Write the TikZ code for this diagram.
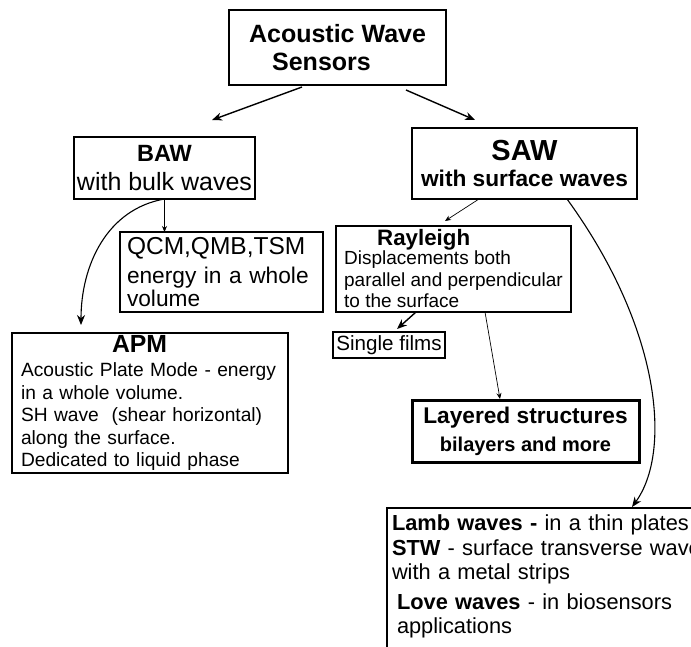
\documentclass[tikz,border=0pt]{standalone}
\usepackage{fontspec}
\setmainfont{Liberation Sans}
\usetikzlibrary{positioning}
\usetikzlibrary{arrows.meta}
\newcommand{\boxfont}[2]{\fontsize{#1}{#2}\selectfont}

\begin{document}
\begin{tikzpicture}[x=1pt,y=1pt,
                    sensorbox/.style={rectangle,
                                      draw=black,
                                      line width=1.8pt,
                                      inner sep=0pt, outer sep=0pt
                                     },
                    wavearrow/.style={
                                      line width=1.4pt,
                                      ->,
                                      >={Stealth[length=10pt,width=8pt]}
                                     },
                    thinarrow/.style={
                                      line width=0.7pt,
                                      ->,
                                      >={Stealth[length=6pt,width=5pt]}
                                     }
                   ]
  \useasboundingbox (0,0) rectangle (691,-646);
  \clip (0,0) rectangle (691,-646);

  \node[sensorbox, minimum width=217pt, minimum height=75pt, align=center,
        font=\boxfont{25}{28}\bfseries] (AWS) at (337.5,-47.5) {Acoustic Wave\\Sensors\hspace*{32pt}};
  \node[sensorbox, below=52pt of AWS, xshift=-173pt, minimum width=181pt, minimum height=62pt,
        align=center, font=\boxfont{25}{29}] (BAW) {{\boxfont{23.5}{29}\bfseries BAW}\\with bulk waves};
  \node[sensorbox, below=43pt of AWS, xshift=187pt, minimum width=225pt, minimum height=71pt,
        align=center, font=\boxfont{22.7}{26}\bfseries] (SAW) {{\boxfont{29}{26}SAW}\\with surface waves};
  \node[sensorbox, below=33pt of BAW, xshift=57pt, minimum height=80pt, inner xsep=7pt,
        text width=189pt, align=left, font=\boxfont{22.7}{23}] (QCM)
        {{\boxfont{24.5}{30}QCM,QMB,TSM}\\[6pt]energy in a whole\\volume};
  \node[sensorbox, below=134pt of BAW, xshift=-14.5pt, minimum height=140pt, inner xsep=9pt,
        text width=258pt, align=left, font=\boxfont{19.2}{22.5}] (APM)
        {\hspace*{91pt}{\boxfont{24.8}{22.5}\bfseries APM}\\[1.5pt]Acoustic Plate Mode - energy\\in a whole volume.\\SH wave\ \ (shear horizontal)\\along the surface.\\Dedicated to liquid phase};
  \node[sensorbox, below=27pt of SAW, xshift=-71pt, minimum width=235pt, minimum height=86pt,
        align=left, font=\boxfont{19}{21.5}] (RAY)
        {\hspace*{33pt}{\boxfont{22.3}{21.5}\bfseries Rayleigh}\\[-2.5pt]Displacements both\\parallel and perpendicular\\to the surface};
  \node[sensorbox, below=20pt of RAY, xshift=-64.5pt, minimum width=112pt, minimum height=26pt,
        font=\boxfont{20.6}{24}] (SF) {Single films};
  \node[sensorbox, line width=3pt, below=88pt of RAY, xshift=72pt, minimum width=227pt, minimum height=62pt,
        align=center, font=\boxfont{22.7}{28}\bfseries] (LAY) {Layered structures\\{\boxfont{20}{28}bilayers and more}};
  \node[sensorbox, below=46pt of LAY.south west, anchor=north west, xshift=-25pt,
        inner xsep=5pt, inner ysep=7pt, text width=320pt, align=left, font=\boxfont{21.8}{24.5}] (LAMB)
        {{\bfseries Lamb waves -} in a thin plates\\{\bfseries STW} - surface transverse wave\\with a metal strips\\[5pt]\hspace*{5pt}{\bfseries Love waves} - in biosensors\\\hspace*{5pt}applications\\[30pt]\mbox{}};

  \draw [wavearrow] ([xshift=-35.5pt,yshift=-2pt]AWS.south) -- ([xshift=47.5pt,yshift=17pt]BAW.north);
  \draw [wavearrow] ([xshift=68.5pt,yshift=-5pt]AWS.south) -- ([xshift=-49.5pt,yshift=8pt]SAW.north);
  \draw [thinarrow] (BAW.south) -- (BAW.south |- QCM.north);
  \draw [wavearrow, line width=1.1pt] (BAW.south) to[out=190,in=90] ([xshift=-69pt,yshift=8pt]APM.north);
  \draw [thinarrow] ([xshift=-45.5pt]SAW.south) -- ([xshift=-8.5pt,yshift=5pt]RAY.north);
  \draw [wavearrow] ([xshift=-37.5pt]RAY.south) -- ([xshift=8pt,yshift=3pt]SF.north);
  \draw [thinarrow] ([xshift=31.5pt]RAY.south) -- ([xshift=-25.5pt,yshift=1pt]LAY.north);
  \draw [wavearrow, line width=1.1pt] ([xshift=42.5pt]SAW.south) .. controls +(-54:160) and +(54:68) .. ([xshift=245pt,yshift=1pt]LAMB.north west);
\end{tikzpicture}
\end{document}
